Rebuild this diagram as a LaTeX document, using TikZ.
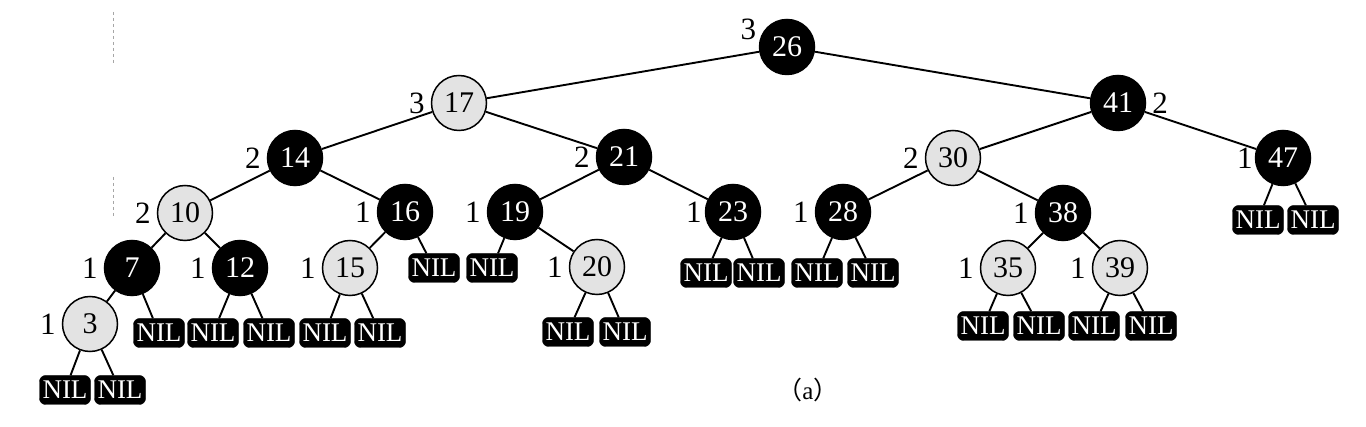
\documentclass[tikz,border=0pt]{standalone}
\usepackage{fontspec}
\setmainfont{Liberation Serif}
\newfontfamily\cjk{Noto Sans CJK SC}
\begin{document}
\begin{tikzpicture}[x=1pt,y=-1pt]
\tikzset{
  rbnode/.style={circle, draw=black, line width=1.5pt, minimum size=55pt, inner sep=0pt,
    font=\fontsize{30}{30}\selectfont},
  blknode/.style={rbnode, fill=black, text=white},
  rednode/.style={rbnode, fill=black!11},
  nilbox/.style={rectangle, rounded corners=6pt, fill=black, draw=black, text=white,
    minimum width=51pt, minimum height=29pt, inner sep=0pt,
    font=\fontsize{27}{27}\selectfont},
  bh/.style={font=\fontsize{31}{31}\selectfont, inner sep=0pt, label distance=6pt},
  treeedge/.style={line width=1.9pt},
  artifact/.style={black!35, dashed, line width=0.8pt}
}
\useasboundingbox (0,0) rectangle (1366,427);
\fill[white] (0,0) rectangle (1366,427);
\draw[artifact] (113,12) -- (113,65);
\draw[artifact] (113,177) -- (113,218);

% internal nodes
\node[blknode, label={[bh,label distance=3pt]168:3}] (n26) at (787,47) {26};
\node[rednode, label={[bh]left:3}] (n17) at (459,103) {17};
\node[blknode, label={[bh]right:2}] (n41) at (1118,103) {41};
\node[blknode, label={[bh]left:2}] (n14) at (295,158) {14};
\node[blknode, label={[bh]left:2}] (n21) at (624,157) {21};
\node[rednode, label={[bh]left:2}] (n30) at (953,158) {30};
\node[blknode, label={[bh,label distance=2pt]left:1}] (n47) at (1283,158) {47};
\node[rednode, label={[bh]left:2}] (n10) at (185,213) {10};
\node[blknode, label={[bh]left:1}] (n16) at (405,212) {16};
\node[blknode, label={[bh]left:1}] (n19) at (515,212) {19};
\node[blknode, label={[bh,label distance=3pt]left:1}] (n23) at (733,212) {23};
\node[blknode, label={[bh]left:1}] (n28) at (843,212) {28};
\node[blknode, label={[bh]left:1}] (n38) at (1063,213) {38};
\node[blknode, label={[bh]left:1}] (n7) at (132,268) {7};
\node[blknode, label={[bh]left:1}] (n12) at (240,268) {12};
\node[rednode, label={[bh]left:1}] (n15) at (350,268) {15};
\node[rednode, label={[bh]left:1}] (n20) at (597,267) {20};
\node[rednode, label={[bh]left:1}] (n35) at (1008,268) {35};
\node[rednode, label={[bh]left:1}] (n39) at (1120,268) {39};
\node[rednode, label={[bh]left:1}] (n3) at (90,324) {3};

% NIL leaves
\node[nilbox] (l3a) at (65,390) {NIL};
\node[nilbox] (l3b) at (120,390) {NIL};
\node[nilbox] (l7) at (159,333) {NIL};
\node[nilbox] (l12a) at (213,333) {NIL};
\node[nilbox] (l12b) at (269,333) {NIL};
\node[nilbox] (l15a) at (325,333) {NIL};
\node[nilbox] (l15b) at (380,333) {NIL};
\node[nilbox] (l16) at (434,268) {NIL};
\node[nilbox] (l19) at (492,268) {NIL};
\node[nilbox] (l20a) at (568,332) {NIL};
\node[nilbox] (l20b) at (625,332) {NIL};
\node[nilbox] (l23a) at (706,273) {NIL};
\node[nilbox] (l23b) at (759,273) {NIL};
\node[nilbox] (l28a) at (817,273) {NIL};
\node[nilbox] (l28b) at (873,273) {NIL};
\node[nilbox] (l35a) at (983,326) {NIL};
\node[nilbox] (l35b) at (1039,326) {NIL};
\node[nilbox] (l39a) at (1094,326) {NIL};
\node[nilbox] (l39b) at (1151,326) {NIL};
\node[nilbox] (l47a) at (1258,220) {NIL};
\node[nilbox] (l47b) at (1313,220) {NIL};

% edges
\draw[treeedge] (n26) -- (n17);
\draw[treeedge] (n26) -- (n41);
\draw[treeedge] (n17) -- (n14);
\draw[treeedge] (n17) -- (n21);
\draw[treeedge] (n41) -- (n30);
\draw[treeedge] (n41) -- (n47);
\draw[treeedge] (n14) -- (n10);
\draw[treeedge] (n14) -- (n16);
\draw[treeedge] (n21) -- (n19);
\draw[treeedge] (n21) -- (n23);
\draw[treeedge] (n30) -- (n28);
\draw[treeedge] (n30) -- (n38);
\draw[treeedge] (n47) -- (l47a);
\draw[treeedge] (n47) -- (l47b);
\draw[treeedge] (n10) -- (n7);
\draw[treeedge] (n10) -- (n12);
\draw[treeedge] (n16) -- (n15);
\draw[treeedge] (n16) -- (l16);
\draw[treeedge] (n19) -- (l19);
\draw[treeedge] (n19) -- (n20);
\draw[treeedge] (n23) -- (l23a);
\draw[treeedge] (n23) -- (l23b);
\draw[treeedge] (n28) -- (l28a);
\draw[treeedge] (n28) -- (l28b);
\draw[treeedge] (n38) -- (n35);
\draw[treeedge] (n38) -- (n39);
\draw[treeedge] (n7) -- (n3);
\draw[treeedge] (n7) -- (l7);
\draw[treeedge] (n12) -- (l12a);
\draw[treeedge] (n12) -- (l12b);
\draw[treeedge] (n15) -- (l15a);
\draw[treeedge] (n15) -- (l15b);
\draw[treeedge] (n20) -- (l20a);
\draw[treeedge] (n20) -- (l20b);
\draw[treeedge] (n35) -- (l35a);
\draw[treeedge] (n35) -- (l35b);
\draw[treeedge] (n39) -- (l39a);
\draw[treeedge] (n39) -- (l39b);
\draw[treeedge] (n3) -- (l3a);
\draw[treeedge] (n3) -- (l3b);

\node[font=\fontsize{25}{25}\selectfont, inner sep=0pt] (cap) at (808,390) {{\cjk（}a{\cjk）}};
\end{tikzpicture}
\end{document}
